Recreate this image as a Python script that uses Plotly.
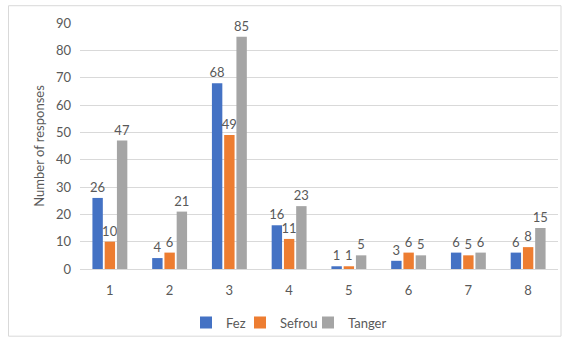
import plotly.graph_objects as go

categories = ["1", "2", "3", "4", "5", "6", "7", "8"]
fez = [26, 4, 68, 16, 1, 3, 6, 6]
sefrou = [10, 6, 49, 11, 1, 6, 5, 8]
tanger = [47, 21, 85, 23, 5, 5, 6, 15]

series = [("Fez", fez, "#4472C4"), ("Sefrou", sefrou, "#ED7D31"), ("Tanger", tanger, "#A5A5A5")]

FONT = "Lato, Open Sans, sans-serif"
GRAY = "#595959"

W, H = 562, 342
L, R, T, B = 80, 4, 23, 70
pw, ph = W - L - R, H - T - B

def px_x(x):
    return (x - L) / pw

def px_y(y):
    return (H - B - y) / ph

# one legend box per series so the entries can sit close together
legend_ids = ["legend", "legend2", "legend3"]
legend_left = [186, 240, 308]

fig = go.Figure()
for (name, vals, color), lid in zip(series, legend_ids):
    fig.add_trace(go.Bar(
        x=categories, y=vals, name=name, legend=lid,
        marker=dict(color=color, line=dict(width=0)),
        text=[str(v) for v in vals], textposition="outside",
        constraintext="none",
        textfont=dict(family=FONT, size=13, color=GRAY),
        cliponaxis=False,
    ))

legend_style = dict(orientation="h", xanchor="left", yanchor="top", y=px_y(311),
                    bgcolor="rgba(0,0,0,0)", itemwidth=30,
                    font=dict(family=FONT, size=13, color=GRAY))
legends = {lid: dict(legend_style, x=px_x(lx)) for lid, lx in zip(legend_ids, legend_left)}

fig.update_layout(
    width=W, height=H,
    margin=dict(l=L, r=R, t=T, b=B),
    paper_bgcolor="white", plot_bgcolor="white",
    barmode="group", bargap=0.385, bargroupgap=0.15,
    font=dict(family=FONT, size=13, color=GRAY),
    showlegend=True,
    **legends,
    xaxis=dict(showline=True, linecolor="#D9D9D9", linewidth=1, ticks="",
               tickfont=dict(family=FONT, size=13, color=GRAY), ticklabelstandoff=9),
    yaxis=dict(range=[0, 90], dtick=10, showgrid=True, gridcolor="#D9D9D9", gridwidth=1,
               zeroline=False, showline=False, ticks="",
               tickfont=dict(family=FONT, size=13, color=GRAY), ticklabelstandoff=8,
               title=dict(text="Number of responses", font=dict(family=FONT, size=13, color=GRAY),
                          standoff=8)),
    shapes=[dict(type="rect", xref="paper", yref="paper",
                 x0=px_x(8.5), x1=px_x(561), y0=px_y(340), y1=px_y(5.5),
                 line=dict(color="#D9D9D9", width=1), fillcolor="rgba(0,0,0,0)", layer="below")],
)

fig.write_html("out.html")
